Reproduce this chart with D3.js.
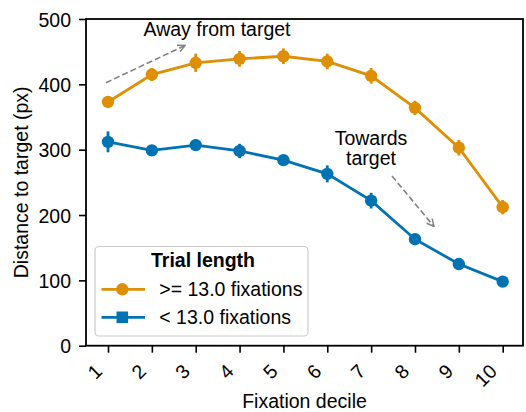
<!DOCTYPE html>
<html><head><meta charset="utf-8">
<script src="https://cdn.jsdelivr.net/npm/d3@7"></script>
<style>
html,body{margin:0;padding:0;background:#fff;}
svg{display:block;font-family:"Liberation Sans",Arial,Helvetica,sans-serif;}
</style></head>
<body>
<svg id="chart" width="526" height="412"></svg>
<script>
const deciles = [1,2,3,4,5,6,7,8,9,10];
const longMeans = [373,415,433,439,443,435,413,364,303,212];
const longErr   = [5,10,14,12,12,12,12,11,12,11];
const shortMeans = [312,299,307,298,284,263,222,163,125,98];
const shortErr   = [16,4,9,11,7,13,12,8,7,6];
const yTicks = [0,100,200,300,400,500];
const seriesLabels = [">= 13.0 fixations","< 13.0 fixations"];
const legendTitle = "Trial length";
const xLabel = "Fixation decile";
const yLabel = "Distance to target (px)";
const annAway = "Away from target";
const annTowards = ["Towards","target"];

const colors = ["#DE8F05","#0173B2"];
const svg = d3.select("#chart");
const L=86, R=523, T=19, B=345.7;
const x = d3.scalePoint().domain(deciles).range([108,502.7]);
const y = d3.scaleLinear().domain([0,500]).range([B,T]);
const FS = 19.5;

// axes
const yAxis = svg.append("g").attr("transform",`translate(${L},0)`)
  .call(d3.axisLeft(y).tickValues(yTicks).tickSize(7).tickPadding(8));
const xAxis = svg.append("g").attr("transform",`translate(0,${B})`)
  .call(d3.axisBottom(x).tickSize(7).tickFormat(d3.format("d")));
[yAxis,xAxis].forEach(g=>{
  g.select(".domain").remove();
  g.selectAll(".tick line").attr("stroke","#000").attr("stroke-width",1.6);
  g.selectAll("text").attr("font-size",FS).attr("fill","#000").attr("font-family","Liberation Sans, Arial, sans-serif");
});
yAxis.selectAll("text").attr("dy","0.36em");
xAxis.selectAll(".tick text")
  .attr("text-anchor","end")
  .attr("dy","0.36em")
  .attr("x",0).attr("y",null)
  .attr("transform","translate(-10,22) rotate(-45)");

// frame
svg.append("rect").attr("x",L).attr("y",T).attr("width",R-L).attr("height",B-T)
  .attr("fill","none").attr("stroke","#000").attr("stroke-width",1.8);

// arrow marker
const defs = svg.append("defs");
defs.append("marker").attr("id","ah").attr("viewBox","0 0 10 10").attr("refX",9).attr("refY",5)
  .attr("markerWidth",9).attr("markerHeight",9).attr("markerUnits","userSpaceOnUse").attr("orient","auto")
  .append("path").attr("d","M1,1 L9,5 L1,9").attr("fill","none").attr("stroke","#808080").attr("stroke-width",1.6);

// series
const series = [
  {m:longMeans,e:longErr,c:colors[0]},
  {m:shortMeans,e:shortErr,c:colors[1]}
];
const line = d3.line().x((d,i)=>x(deciles[i])).y(d=>y(d));
series.forEach(s=>{
  svg.append("path").attr("d",line(s.m)).attr("fill","none").attr("stroke",s.c).attr("stroke-width",2.8);
  svg.append("g").selectAll("line").data(s.m).join("line")
    .attr("x1",(d,i)=>x(deciles[i])).attr("x2",(d,i)=>x(deciles[i]))
    .attr("y1",(d,i)=>y(d-s.e[i])).attr("y2",(d,i)=>y(d+s.e[i]))
    .attr("stroke",s.c).attr("stroke-width",2.8);
  svg.append("g").selectAll("circle").data(s.m).join("circle")
    .attr("cx",(d,i)=>x(deciles[i])).attr("cy",d=>y(d)).attr("r",6.2).attr("fill",s.c);
});

// annotations
svg.append("text").attr("x",143.5).attr("y",36).attr("font-size",FS).text(annAway);
svg.append("line").attr("x1",106).attr("y1",82.7).attr("x2",185).attr("y2",45.5)
  .attr("stroke","#808080").attr("stroke-width",1.6).attr("stroke-dasharray","6,3").attr("marker-end","url(#ah)");
svg.append("text").attr("x",371).attr("y",145).attr("font-size",FS).attr("text-anchor","middle").text(annTowards[0]);
svg.append("text").attr("x",371).attr("y",165).attr("font-size",FS).attr("text-anchor","middle").text(annTowards[1]);
svg.append("line").attr("x1",392).attr("y1",176).attr("x2",434).attr("y2",226.5)
  .attr("stroke","#808080").attr("stroke-width",1.6).attr("stroke-dasharray","6,3").attr("marker-end","url(#ah)");

// legend
const lg = svg.append("g");
lg.append("rect").attr("x",95).attr("y",246.5).attr("width",213).attr("height",89.5).attr("rx",4)
  .attr("fill","#fff").attr("fill-opacity",0.8).attr("stroke","#cccccc").attr("stroke-width",1.2);
lg.append("text").attr("x",203).attr("y",267).attr("text-anchor","middle").attr("font-size",FS)
  .attr("font-weight","bold").text(legendTitle);
const ly = [289.3,317.3];
seriesLabels.forEach((lab,i)=>{
  lg.append("line").attr("x1",101.5).attr("x2",145).attr("y1",ly[i]).attr("y2",ly[i])
    .attr("stroke",colors[i]).attr("stroke-width",2.8);
  if(i===0) lg.append("circle").attr("cx",122.3).attr("cy",ly[i]).attr("r",6.2).attr("fill",colors[i]);
  else lg.append("rect").attr("x",122.3-5.8).attr("y",ly[i]-5.8).attr("width",11.6).attr("height",11.6).attr("fill",colors[i]);
  lg.append("text").attr("x",159.3).attr("y",ly[i]).attr("dy","0.36em").attr("font-size",FS).text(lab);
});

// axis labels
svg.append("text").attr("x",(L+R)/2).attr("y",408).attr("text-anchor","middle").attr("font-size",FS).text(xLabel);
svg.append("text").attr("transform",`translate(27.5,${(T+B)/2}) rotate(-90)`).attr("text-anchor","middle")
  .attr("font-size",FS).text(yLabel);
</script>
</body></html>
